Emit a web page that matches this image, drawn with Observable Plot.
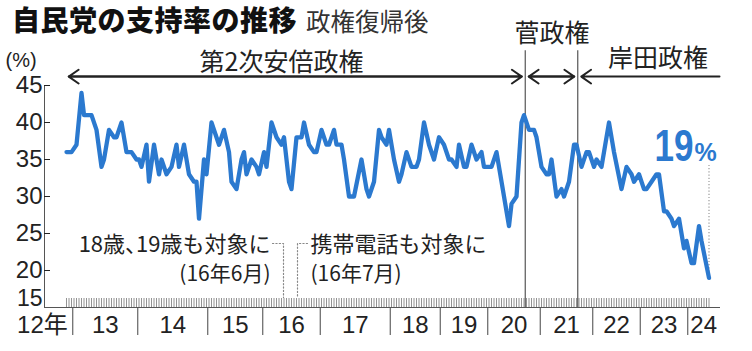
<!DOCTYPE html>
<html><head><meta charset="utf-8">
<script src="https://cdn.jsdelivr.net/npm/d3@7"></script>
<script src="https://cdn.jsdelivr.net/npm/@observablehq/plot@0.6"></script>
<style>
body{margin:0;background:#fff;}
#wrap{position:relative;width:752px;height:351px;overflow:hidden;}
#title{position:absolute;left:12px;top:4px;white-space:nowrap;font-family:"Noto Sans CJK JP",sans-serif;line-height:30px;z-index:2;}
#title b{font-size:28px;font-weight:900;color:#111;letter-spacing:0.5px;}
#title span{font-size:24.5px;font-weight:400;color:#333;margin-left:9px;}
</style></head><body>
<div id="wrap"><div id="title"><b>自民党の支持率の推移</b><span>政権復帰後</span></div><div id="chart"></div></div>
<script>
// survey sequence number (each minor tick = one survey) and LDP support rate (%)
const surveyNo = [0,2,4,6,7,10,12,14,15,17,19,20,22,24,26,28,29,30,32,33,35,37,38,40,42,44,45,47,49,51,52,53,55,56,58,61,63,65,66,68,70,71,72,74,76,77,79,80,82,84,86,87,89,90,92,94,95,97,99,100,102,104,105,107,108,110,111,113,115,118,120,121,123,125,126,128,129,131,133,134,136,138,140,141,143,145,147,149,151,153,154,156,157,159,160,162,164,166,167,170,172,174,177,178,180,182,183,185,187,188,190,192,193,194,196,198,199,201,203,204,206,208,209,211,212,214,217,219,222,224,226,227,229,231,232,234,236,237,239,240,242,243,245,247,248,250,251,253,254,257];
const supportRate = [36,36,37,44,41,41,39,34,35,39,38,38,40,36,36,35,35,34,37,32,37,33,35,33,34,37,34,37,33,32,32,27,35,33,40,37,39,36,32,31,35,36,33,35,34,33,36,34,40,38,37,38,32,31,38,38,40,37,36,36,39,37,37,39,37,37,35,30,30,35,31,30,32,39,38,37,39,35,32,33,36,34,34,35,40,37,35,38,37,35,35,34,37,34,34,37,35,36,34,34,36,32,26,29,30,40,41,39,39,38,34,33,33,35,30,31,30,32,37,37,34,36,36,34,35,34,40,36,31,34,33,32,33,31,31,32,33,33,28,28,27,26,27,23,24,21,21,26,24,19];
const yearLabels = ["12年","13","14","15","16","17","18","19","20","21","22","23","24"];
const yearFirstSurvey = [0,3,29,57,79,102,130,150,169,190,211,230,249];
const lastSurveyNo = 257;
const yTickValues = [20,25,30,35,40,45];
const eraNames = ["第2次安倍政権","菅政権","岸田政権"];
const eraFirstSurvey = [0,184,205];
const noteLabels = ["18歳、19歳も対象に","(16年6月)","携帯電話も対象に","(16年7月)"];

const rows = surveyNo.map((s, i) => ({survey: s, rate: supportRate[i]}));
const last = rows[rows.length - 1];
const xDomain = [-8.8, 261.2];
const sep = yearFirstSurvey.map(s => s - 0.5);
const bounds = [...sep, xDomain[1]];
const eraB = eraFirstSurvey.map(s => s - 0.5);
const blue = "#2b79cf", ink = "#222", grid = "#555";
const jp = "'Noto Sans CJK JP',sans-serif";
const yArrow = 46.2, yEraTop = 49.7;

const arrowsBoth = [
  {a: eraB[0], b: eraB[1]}, {a: eraB[1], b: eraB[0]},
  {a: eraB[1], b: eraB[2]}, {a: eraB[2], b: eraB[1]}
];

const chart = Plot.plot({
  width: 752, height: 351,
  marginLeft: 44, marginRight: 33, marginTop: 85, marginBottom: 44,
  x: {domain: xDomain, axis: null},
  y: {domain: [15, 45], axis: null},
  style: {fontFamily: "'Liberation Sans','Noto Sans CJK JP',sans-serif", color: ink, background: "white", overflow: "visible"},
  marks: [
    Plot.axisX(d3.range(0, lastSurveyNo + 1), {anchor: "bottom", tickSize: -9, fill: "none", color: "#777", strokeWidth: 0.8, label: null}),
    Plot.axisX(sep.slice(1), {anchor: "bottom", tickSize: 28, fill: "none", color: grid, strokeWidth: 1.1, label: null}),
    Plot.frame({anchor: "left", stroke: grid}),
    Plot.frame({anchor: "bottom", stroke: grid}),
    Plot.axisY(yTickValues, {anchor: "left", tickSize: -6, tickPadding: 8, fontSize: 24, color: ink, label: null}),
    Plot.axisY([15], {anchor: "left", tickSize: 0, tickPadding: 2, dy: -9, fontSize: 23, color: ink, label: null}),
    Plot.text(["(%)"], {frameAnchor: "top-left", dx: -39, dy: -25, textAnchor: "start", lineAnchor: "middle", fontSize: 20, fill: ink}),
    Plot.text(yearLabels.slice(1), {x: (d, i) => (bounds[i + 1] + bounds[i + 2]) / 2, frameAnchor: "bottom", lineAnchor: "middle", dy: 17.5, fontSize: 24, fill: ink}),
    Plot.text([yearLabels[0]], {x: () => sep[1], frameAnchor: "bottom", lineAnchor: "middle", dy: 17.5, dx: -5, textAnchor: "end", fontSize: 24, fill: ink}),
    // administration boundaries
    Plot.ruleX(eraB.slice(1), {y1: () => 15, y2: () => yEraTop, stroke: grid, strokeWidth: 1.2}),
    Plot.arrow(arrowsBoth, {x1: "a", x2: "b", y1: () => yArrow, y2: () => yArrow, inset: 3.5, stroke: ink, strokeWidth: 2, headLength: 9, headAngle: 70}),
    Plot.arrow([{a: xDomain[1], b: eraB[2]}], {x1: "a", x2: "b", y1: () => yArrow, y2: () => yArrow, insetEnd: 3.5, stroke: ink, strokeWidth: 2, headLength: 9, headAngle: 70}),
    Plot.text(eraNames, {x: (d, i) => [86, 194.2, 236.6][i], y: (d, i) => [48.1, 51.9, 48.6][i], fontSize: 25, fontFamily: jp, fill: ink}),
    // survey method notes
    Plot.line([{x: 82.4, y: 23.65}, {x: 86.8, y: 23.65}, {x: 86.8, y: 16.35}], {x: "x", y: "y", stroke: "#888", strokeWidth: 1.2, strokeDasharray: "1.2,2.2"}),
    Plot.line([{x: 96.4, y: 23.65}, {x: 92.4, y: 23.65}, {x: 92.4, y: 16.35}], {x: "x", y: "y", stroke: "#888", strokeWidth: 1.2, strokeDasharray: "1.2,2.2"}),
    Plot.text([noteLabels[0]], {x: () => 81.6, y: () => 23.4, textAnchor: "end", fontSize: 22, fontFamily: jp, fill: ink}),
    Plot.text([noteLabels[1]], {x: () => 81.6, y: () => 19.45, textAnchor: "end", fontSize: 21, fontFamily: jp, fill: ink}),
    Plot.text([noteLabels[2]], {x: () => 97.6, y: () => 23.4, textAnchor: "start", fontSize: 22, fontFamily: jp, fill: ink}),
    Plot.text([noteLabels[3]], {x: () => 97.6, y: () => 19.45, textAnchor: "start", fontSize: 21, fontFamily: jp, fill: ink}),
    // latest value callout
    Plot.ruleX([last], {x: "survey", y1: () => 34.2, y2: "rate", stroke: "#999", strokeWidth: 1.2, strokeDasharray: "1.2,2"}),
    Plot.line(rows, {x: "survey", y: "rate", stroke: blue, strokeWidth: 4.3, strokeLinejoin: "round", strokeLinecap: "round"}),
    Plot.text([last], {x: "survey", y: "rate", text: d => `${d.rate}%`, dx: -54.5, dy: -117, lineAnchor: "bottom", textAnchor: "start", fontSize: 45, fontWeight: "bold", fontFamily: "'Liberation Sans',sans-serif", fill: blue})
  ]
});
const svgSel = d3.select(chart);
svgSel.selectAll("text").filter(function () { return this.textContent === noteLabels[0]; })
  .style("font-feature-settings", "'halt' 1");
svgSel.selectAll("text").filter(function () { return this.textContent === `${last.rate}%`; })
  .each(function () {
    const t = d3.select(this);
    t.text(null);
    t.append("tspan").text(`${last.rate}`).attr("textLength", 39).attr("lengthAdjust", "spacingAndGlyphs");
    t.append("tspan").text("%").attr("font-size", 25).attr("dx", 1);
  });
document.getElementById("chart").appendChild(chart);
</script>
</body></html>
